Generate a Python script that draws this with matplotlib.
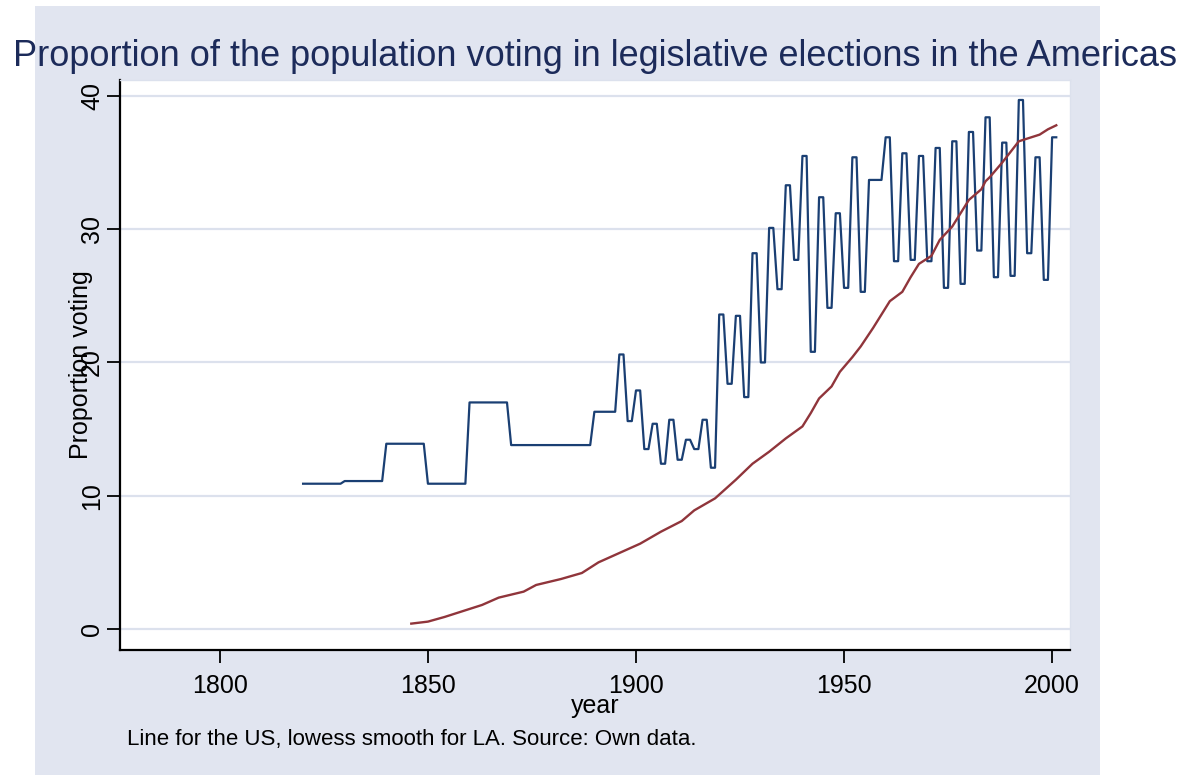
import matplotlib
matplotlib.use("Agg")
import matplotlib.pyplot as plt
from matplotlib.patches import Rectangle

plt.rcParams['font.family'] = ['Liberation Sans', 'DejaVu Sans']

# US: observation years and proportion voting (value held until next observation)
us_years = [1820, 1830, 1840, 1850, 1860, 1870, 1880, 1890, 1892, 1894,
            1896, 1898, 1900, 1902, 1904, 1906, 1908, 1910, 1912, 1914,
            1916, 1918, 1920, 1922, 1924, 1926, 1928, 1930, 1932, 1934,
            1936, 1938, 1940, 1942, 1944, 1946, 1948, 1950, 1952, 1954,
            1956, 1958, 1960, 1962, 1964, 1966, 1968, 1970, 1972, 1974,
            1976, 1978, 1980, 1982, 1984, 1986, 1988, 1990, 1992, 1994,
            1996, 1998, 2000]
us_vals = [10.9, 11.1, 13.9, 10.9, 17.0, 13.8, 13.8, 16.3, 16.3, 16.3,
           20.6, 15.6, 17.9, 13.5, 15.4, 12.4, 15.7, 12.7, 14.2, 13.5,
           15.7, 12.1, 23.6, 18.4, 23.5, 17.4, 28.2, 20.0, 30.1, 25.5,
           33.3, 27.7, 35.5, 20.8, 32.4, 24.1, 31.2, 25.6, 35.4, 25.3,
           33.7, 33.7, 36.9, 27.6, 35.7, 27.7, 35.5, 27.6, 36.1, 25.6,
           36.6, 25.9, 37.3, 28.4, 38.4, 26.4, 36.5, 26.5, 39.7, 28.2,
           35.4, 26.2, 36.9]
us_last_year = 2001

# Latin America: lowess smooth
la_years = [1846, 1850, 1854, 1858, 1863, 1867, 1873, 1876, 1882, 1887,
            1891, 1896, 1901, 1906, 1911, 1914, 1919, 1924, 1928, 1932,
            1936, 1940, 1942, 1944, 1947, 1949, 1952, 1954, 1957, 1959,
            1961, 1964, 1966, 1968, 1971, 1973, 1976, 1978, 1980, 1983,
            1984, 1985, 1988, 1990, 1992, 1995, 1997, 1999, 2001]
la_vals = [0.4, 0.55, 0.9, 1.3, 1.8, 2.35, 2.8, 3.3, 3.75, 4.2,
           5.0, 5.7, 6.4, 7.3, 8.1, 8.9, 9.8, 11.2, 12.4, 13.3,
           14.3, 15.2, 16.2, 17.3, 18.2, 19.3, 20.4, 21.2, 22.6, 23.6,
           24.6, 25.3, 26.4, 27.4, 28.0, 29.2, 30.2, 31.2, 32.2, 33.0,
           33.6, 33.9, 35.0, 35.8, 36.6, 36.9, 37.1, 37.5, 37.8]

# annual series: each value is carried to the year before the next observation
ends = us_years[1:] + [us_last_year + 1]
xs, ys = [], []
for y0, y1, v in zip(us_years, ends, us_vals):
    xs.append(y0)
    ys.append(v)
    if y1 - 1 > y0:
        xs.append(y1 - 1)
        ys.append(v)

W, H = 1199, 775
bg = '#e1e5f0'
grid = '#dce1ed'
navy = '#1a3f73'
maroon = '#90353b'

fig = plt.figure(figsize=(W / 100, H / 100), dpi=100)
fig.patches.append(Rectangle((35 / W, 0), 1065 / W, 1 - 6 / H, transform=fig.transFigure,
                             facecolor=bg, edgecolor='none', zorder=-10))

ax = fig.add_axes([120 / W, 1 - 650 / H, 950 / W, 570 / H])
ax.set_zorder(1)
ax.set_facecolor('white')
ax.plot(xs, ys, color=navy, lw=1.6, zorder=3)
ax.plot(la_years, la_vals, color=maroon, lw=1.7, zorder=3)

ax.set_xlim(1776, 2004.3)
ax.set_ylim(-1.58, 41.2)
ax.set_xticks([1800, 1850, 1900, 1950, 2000])
ax.set_yticks([0, 10, 20, 30, 40])
ax.grid(axis='y', color=grid, lw=1.6)
ax.set_axisbelow(True)

for s in ['top', 'right']:
    ax.spines[s].set_color(grid)
    ax.spines[s].set_linewidth(1.0)
for s in ['left', 'bottom']:
    ax.spines[s].set_color('black')
    ax.spines[s].set_linewidth(1.6)

ax.tick_params(axis='both', length=9.5, width=1.3, color='black', labelsize=18)
ax.tick_params(axis='x', pad=8)
ax.tick_params(axis='y', pad=2)
for lab in ax.get_yticklabels():
    lab.set_rotation(90)
    lab.set_va('center')

ax.set_xlabel('year', fontsize=18, labelpad=-3)
ax.set_ylabel('Proportion voting', fontsize=18)
ax.yaxis.set_label_coords(-0.028, 0.5)

fig.text(595 / W, 1 - 56 / H, 'Proportion of the population voting in legislative elections in the Americas',
         ha='center', va='center', fontsize=26, color='#1c2b5a')
fig.text(127 / W, 1 - 740 / H, 'Line for the US, lowess smooth for LA. Source: Own data.',
         ha='left', va='center', fontsize=16, color='black')

fig.savefig('out.png', dpi=100, facecolor='white')
